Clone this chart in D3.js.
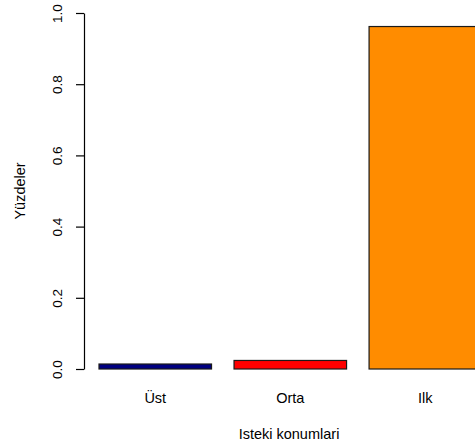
<!DOCTYPE html>
<html>
<head>
<meta charset="utf-8">
<script src="https://cdn.jsdelivr.net/npm/d3@7"></script>
<style>
  html, body { margin: 0; padding: 0; background: #fff; }
  svg { display: block; font-family: "Liberation Sans", Arial, Helvetica, sans-serif; }
</style>
</head>
<body>
<script>
// Share of each query position
const categories = ["Üst", "Orta", "Ilk"];
const values = [0.014, 0.024, 0.962];
const barColors = ["#000080", "#ff0000", "#ff8c00"];
const yTicks = [0, 0.2, 0.4, 0.6, 0.8, 1.0];
const xTitle = "Isteki konumlari";
const yTitle = "Yüzdeler";

const W = 475, H = 448;
const svg = d3.select("body").append("svg").attr("width", W).attr("height", H);

const y = d3.scaleLinear().domain([0, 1]).range([369, 13]);
const x = d3.scaleBand().domain(categories).range([99, 481.6])
  .paddingInner(0.2 / 1.2).paddingOuter(0);

// bars
svg.append("g").selectAll("rect").data(values).join("rect")
  .attr("x", (d, i) => x(categories[i]))
  .attr("width", x.bandwidth())
  .attr("y", d => y(d))
  .attr("height", d => y(0) - y(d))
  .attr("fill", (d, i) => barColors[i])
  .attr("stroke", "#1a1a1a")
  .attr("stroke-width", 1.2);

// y axis
const yAxis = d3.axisLeft(y).tickValues(yTicks).tickFormat(d3.format(".1f")).tickSize(8).tickSizeOuter(0);
const gy = svg.append("g").attr("transform", "translate(84,0)").call(yAxis);
gy.select(".domain").attr("stroke", "#000").attr("stroke-width", 1.2);
gy.selectAll(".tick line").attr("stroke", "#000").attr("stroke-width", 1.2);
gy.selectAll(".tick text")
  .attr("transform", null)
  .attr("x", null).attr("dy", null)
  .attr("text-anchor", "middle")
  .attr("dominant-baseline", "central")
  .attr("font-size", 13.5)
  .attr("fill", "#000")
  .attr("transform", "translate(-27,0) rotate(-90)");

// category labels
svg.append("g").selectAll("text").data(categories).join("text")
  .attr("x", d => x(d) + x.bandwidth() / 2)
  .attr("y", 403)
  .attr("text-anchor", "middle")
  .attr("font-size", 14.5)
  .attr("fill", "#000")
  .text(d => d);

// axis titles
svg.append("text")
  .attr("x", 289).attr("y", 439)
  .attr("text-anchor", "middle")
  .attr("font-size", 14.5)
  .attr("fill", "#000")
  .text(xTitle);

svg.append("text")
  .attr("transform", "translate(20,191) rotate(-90)")
  .attr("text-anchor", "middle")
  .attr("dominant-baseline", "central")
  .attr("font-size", 14.5)
  .attr("fill", "#000")
  .text(yTitle);
</script>
</body>
</html>
